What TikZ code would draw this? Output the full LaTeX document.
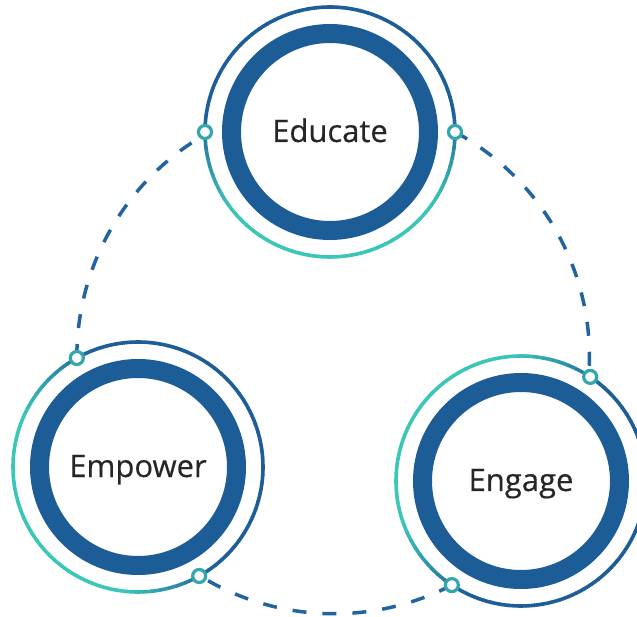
\documentclass[tikz,border=0pt]{standalone}
\usepackage{fontspec}
\setmainfont{Open Sans}
\newfontfamily\lblfont[FakeBold=0.4]{Open Sans}
\usetikzlibrary{calc}
\definecolor{bluec}{HTML}{1D5E97}
\definecolor{thickc}{HTML}{1C5D98}
\definecolor{tealc}{HTML}{3CC6B8}
\definecolor{dashc}{HTML}{22649F}
\definecolor{textc}{HTML}{262626}
\definecolor{knobc}{HTML}{33A6AE}
\tikzset{
  thinring/.style={line width=3.6pt},
  thickring/.style={draw=thickc, line width=19pt},
  dashline/.style={draw=dashc, line width=3.5pt, dash pattern=on 14pt off 16pt},
  knob/.style={circle, draw=knobc, fill=white, line width=3.2pt, minimum size=13pt, inner sep=0pt},
  lbl/.style={text=textc, font=\lblfont\fontsize{31}{36}\selectfont, anchor=base, inner sep=0pt}
}
\newcommand\myring[2]{%
  \foreach \a in {0,4,...,356}{%
    \pgfmathsetmacro\mixp{max(0,min(100,(0.15-cos(\a+2-#2))/0.75*100))}%
    \draw[thinring, draw=tealc!\mixp!bluec] ($(#1)+(\a:125pt)$) arc[start angle=\a, end angle=\a+4.4, radius=125pt];
  }%
  \draw[thickring] (#1) circle[radius=98.5pt];
}
\newcommand\dasharc[2]{%
  \draw[dashline] let \p1=($(#1)-(O)$), \p2=($(#2)-(O)$),
    \n1={atan2(\y1,\x1)}, \n2={atan2(\y2,\x2)},
    \n3={\n1+mod(\n2-\n1+540,360)-180}, \n4={veclen(\x1,\y1)}
    in (#1) arc[start angle=\n1, end angle=\n3, radius=\n4];
}
\begin{document}
\begin{tikzpicture}[x=1pt,y=1pt]
\useasboundingbox (0,0) rectangle (637,616);
\coordinate (O) at (334,259);
\coordinate (E) at (330,484);
\coordinate (M) at (138,149);
\coordinate (G) at (521,135);
% connector points on the outer rings
\coordinate (e1) at ($(E)+(0:125pt)$);
\coordinate (e2) at ($(E)+(180:125pt)$);
\coordinate (m1) at ($(M)+(119.3:125pt)$);
\coordinate (m2) at ($(M)+(-60.7:125pt)$);
\coordinate (g1) at ($(G)+(56.4:125pt)$);
\coordinate (g2) at ($(G)+(236.4:125pt)$);
% dashed connectors
\dasharc{e1}{g1}
\dasharc{g2}{m2}
\dasharc{m1}{e2}
% rings
\myring{E}{91}
\myring{M}{29}
\myring{G}{326.4}
% labels
\node[lbl] (te) at ($(E)+(0,-10)$) {Educate};
\node[lbl] (tm) at ($(M)+(0,-10)$) {Empower};
\node[lbl] (tg) at ($(G)+(0,-10)$) {Engage};
% knobs
\foreach \k in {e1,e2,m1,m2,g1,g2} \node[knob] (k\k) at (\k) {};
\end{tikzpicture}
\end{document}
